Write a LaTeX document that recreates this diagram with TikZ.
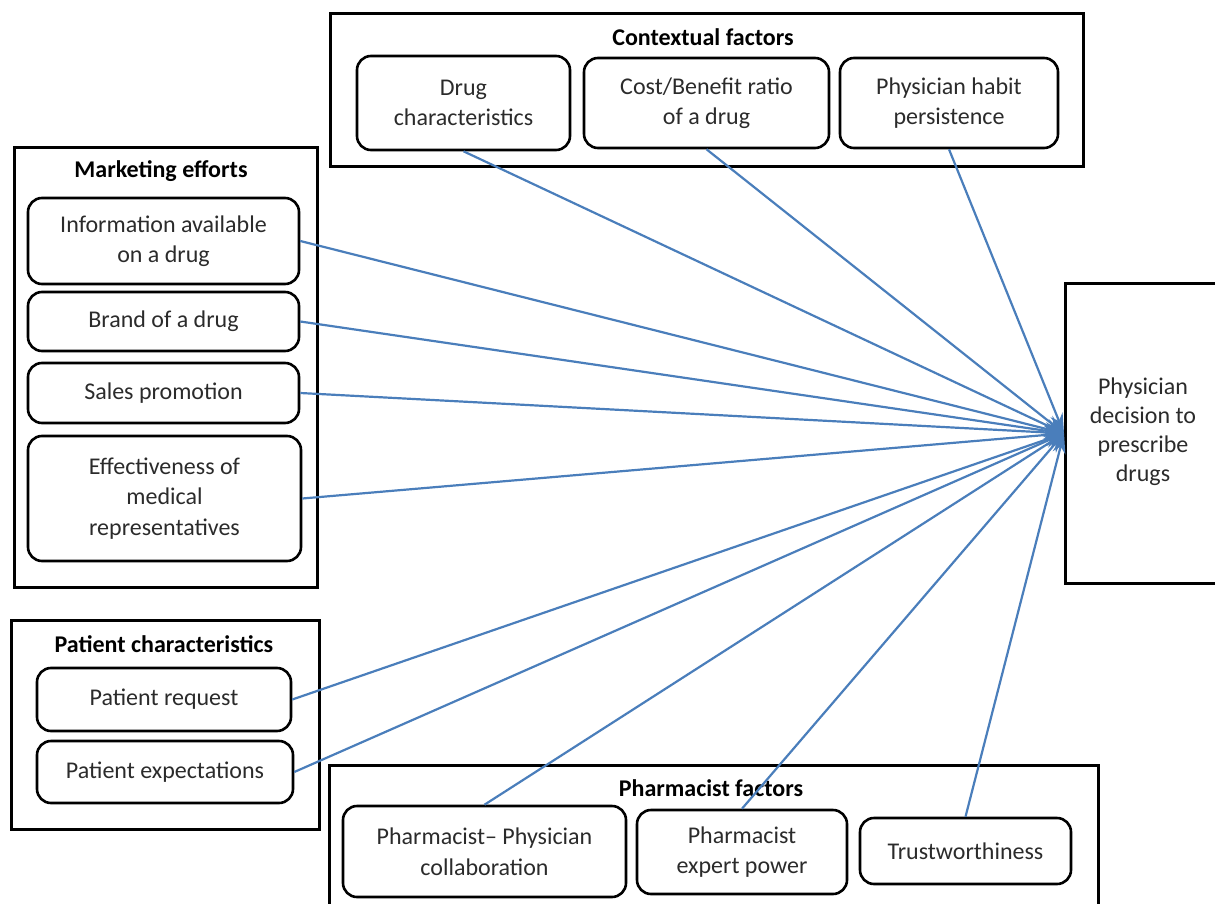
\documentclass[tikz,border=0pt]{standalone}
\usepackage{fontspec}
\setmainfont{Carlito}
\usetikzlibrary{arrows.meta}
\definecolor{linkblue}{HTML}{4A7EBB}
\definecolor{txt}{HTML}{2B2B2B}
\begin{document}
\begin{tikzpicture}[x=1pt,y=-1pt,
  outer/.style={draw=black,line width=2.8pt,inner sep=0pt},
  inner/.style={draw=black,line width=2.6pt,rounded corners=14pt,align=center,text=txt,
    font=\fontsize{24}{30.5}\selectfont,inner sep=0pt},
  ttl/.style={font=\bfseries\fontsize{24}{28}\selectfont,text=black},
  arr/.style={draw=linkblue,line width=2.2pt,-{Stealth[length=20pt,width=13pt]}}]
\useasboundingbox (0,0) rectangle (1215,904);
\begin{scope}
\clip (0,0) rectangle (1215,904);
% outer group boxes
\node[outer,minimum width=753,minimum height=153,anchor=north west] (ctx) at (329,12) {};
\node[outer,minimum width=303,minimum height=440,anchor=north west] (mkt) at (13,146) {};
\node[outer,minimum width=308,minimum height=209,anchor=north west] (pat) at (10,619) {};
\node[outer,minimum width=769,minimum height=160,anchor=north west] (pha) at (328,764) {};
\node[outer,minimum width=158,minimum height=300,anchor=north west] (phys) at (1064,282) {};
\end{scope}
% titles
\node[ttl] (ctxt) at (703,37) {Contextual factors};
\node[ttl] (mktt) at (161,171) {Marketing efforts};
\node[ttl] (patt) at (164,644) {Patient characteristics};
\node[ttl] (phat) at (711,788) {Pharmacist factors};
\node[align=center,text=txt,font=\fontsize{24}{29}\selectfont] (physt) at (1143,432) {Physician\\decision to\\prescribe\\drugs};
% inner boxes
\node[inner,minimum width=213,minimum height=94] (drug) at (463.5,103) {Drug\\characteristics};
\node[inner,minimum width=245,minimum height=90] (cost) at (706.5,103) {Cost/Benefit ratio\\of a drug};
\node[inner,minimum width=218,minimum height=90] (habit) at (949,103) {Physician habit\\persistence};
\node[inner,minimum width=271,minimum height=86] (info) at (163.5,241) {Information available\\on a drug};
\node[inner,minimum width=271,minimum height=59] (brand) at (163.5,321.5) {Brand of a drug};
\node[inner,minimum width=271,minimum height=60] (sales) at (163.5,393) {Sales promotion};
\node[inner,minimum width=273,minimum height=125] (eff) at (164.5,498.5) {Effectiveness of\\medical\\representatives};
\node[inner,minimum width=254,minimum height=63] (preq) at (164,699.5) {Patient request};
\node[inner,minimum width=256,minimum height=62] (pexp) at (165,772) {Patient expectations};
\node[inner,minimum width=283,minimum height=91] (ppc) at (484.5,851.5) {Pharmacist\textendash\ Physician\\collaboration};
\node[inner,minimum width=210,minimum height=84] (pep) at (742,852) {Pharmacist\\expert power};
\node[inner,minimum width=211,minimum height=66] (trust) at (965.5,851) {Trustworthiness};
% arrows
\coordinate (tgt) at (phys.west);
\draw[arr] (drug.south) -- (tgt);
\draw[arr] (cost.south) -- (tgt);
\draw[arr] (habit.south) -- (tgt);
\draw[arr] (info.east) -- (tgt);
\draw[arr] (brand.east) -- (tgt);
\draw[arr] (sales.east) -- (tgt);
\draw[arr] (eff.east) -- (tgt);
\draw[arr] (preq.east) -- (tgt);
\draw[arr] (pexp.east) -- (tgt);
\draw[arr] (ppc.north) -- (tgt);
\draw[arr] (pep.north) -- (tgt);
\draw[arr] (trust.north) -- (tgt);
\end{tikzpicture}
\end{document}
